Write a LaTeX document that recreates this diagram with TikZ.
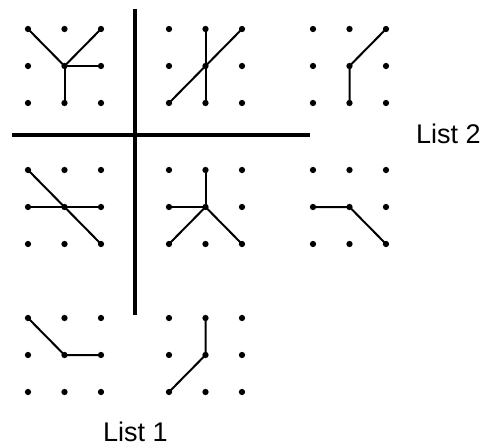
\documentclass[tikz,border=0pt]{standalone}
\usepackage{fontspec}
\setmainfont{Liberation Sans}
\begin{document}
\begin{tikzpicture}[x=1pt,y=-1pt,
  dot/.style={circle,fill=black,inner sep=0pt,minimum size=6.3pt},
  seg/.style={line width=2pt,line cap=round},
  divider/.style={line width=3.2pt},
  lbl/.style={font=\fontsize{27}{32}\selectfont,inner sep=0pt,anchor=base}]
\useasboundingbox (0,0) rectangle (483,448);
% dots
\foreach \r/\yy in {1/29,2/170,3/318}{
  \foreach \c/\xx in {1/28,2/169,3/313}{
    \ifnum\r\c=33\else
    \foreach \i in {0,1,2}{
      \foreach \j in {0,1,2}{
        \node[dot] (b\r\c-\i\j) at ({\xx+36.5*\i},{\yy+37*\j}) {};
      }
    }
    \fi
  }
}
% dividers
\coordinate (vt) at (135,9);
\coordinate (vb) at (135,315);
\coordinate (hl) at (12,135);
\coordinate (hr) at (310,135);
\draw[divider] (vt) -- (vb);
\draw[divider] (hl) -- (hr);
% block 1,1
\draw[seg] (b11-00.center) -- (b11-11.center) -- (b11-20.center);
\draw[seg] (b11-11.center) -- (b11-21.center);
\draw[seg] (b11-11.center) -- (b11-12.center);
% block 1,2
\draw[seg] (b12-10.center) -- (b12-12.center);
\draw[seg] (b12-02.center) -- (b12-20.center);
% block 1,3
\draw[seg] (b13-20.center) -- (b13-11.center) -- (b13-12.center);
% block 2,1
\draw[seg] (b21-00.center) -- (b21-22.center);
\draw[seg] (b21-01.center) -- (b21-21.center);
% block 2,2
\draw[seg] (b22-10.center) -- (b22-11.center);
\draw[seg] (b22-01.center) -- (b22-11.center);
\draw[seg] (b22-02.center) -- (b22-11.center) -- (b22-22.center);
% block 2,3
\draw[seg] (b23-01.center) -- (b23-11.center) -- (b23-22.center);
% block 3,1
\draw[seg] (b31-00.center) -- (b31-11.center) -- (b31-21.center);
% block 3,2
\draw[seg] (b32-10.center) -- (b32-11.center) -- (b32-02.center);
% labels
\node[lbl] (l2) at (448.5,143) {List 2};
\node[lbl] (l1) at (135.5,441) {List 1};
\end{tikzpicture}
\end{document}
